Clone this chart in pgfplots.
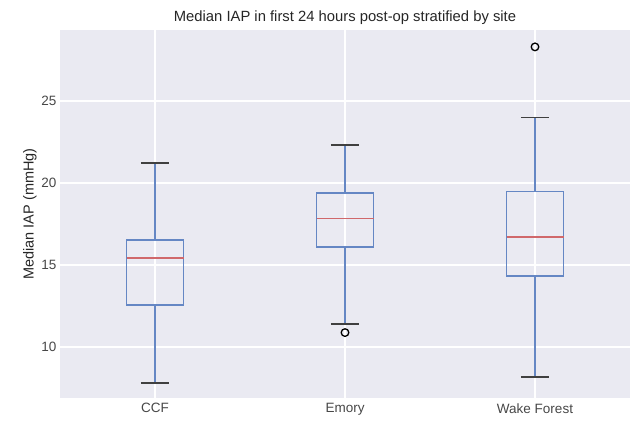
\documentclass[border=0pt]{standalone}
\usepackage{pgfplots}
\pgfplotsset{compat=1.18}
\usepgfplotslibrary{statistics}
\usepackage{fontspec}
\setmainfont{Liberation Sans}
\definecolor{bg}{HTML}{EAEAF2}
\definecolor{boxc}{HTML}{6587C4}
\definecolor{medc}{HTML}{D0686B}
\definecolor{capc}{HTML}{404040}
\definecolor{txt}{HTML}{262626}
\begin{document}
\begin{tikzpicture}
\begin{axis}[
  scale only axis,
  width=570pt, height=368pt,
  xmin=0.5, xmax=3.5,
  ymin=6.89, ymax=29.33,
  axis background/.style={fill=bg},
  axis line style={draw=none},
  major tick length=0pt,
  grid=major,
  grid style={white, line width=1.1pt},
  xtick={1,2,3},
  xticklabels={CCF,Emory,Wake Forest},
  ytick={10,15,20,25},
  tick label style={font=\fontsize{13.5}{15}\selectfont, text=txt!85},
  xticklabel style={yshift=-2pt},
  /pgf/number format/assume math mode=true,
  ylabel={Median IAP (mmHg)},
  ylabel style={font=\fontsize{14.5}{16}\selectfont, text=txt, yshift=-2pt},
  title={Median IAP in first 24 hours post-op stratified by site},
  title style={font=\fontsize{14.8}{16}\selectfont, text=txt, yshift=-4pt},
  boxplot/draw direction=y,
  boxplot/box extend=0.3,
  boxplot/whisker extend=0,
  bxp/.style={solid, draw=boxc, line width=1.3pt, no marks,
    boxplot/every median/.style={draw=medc, line width=1.3pt}},
  capstyle/.style={draw=capc, line width=1.2pt, no marks, forget plot},
  outl/.style={only marks, mark=o, mark size=3.8pt, draw=black, mark options={line width=1.3pt, draw=black}, forget plot},
]
\addplot[bxp,
  boxplot prepared={draw position=1, lower whisker=7.8, lower quartile=12.56, median=15.43, upper quartile=16.52, upper whisker=21.22}]
  coordinates {};
\addplot[bxp,
  boxplot prepared={draw position=2, lower whisker=11.4, lower quartile=16.1, median=17.85, upper quartile=19.39, upper whisker=22.32}]
  coordinates {};
\addplot[bxp,
  boxplot prepared={draw position=3, lower whisker=8.17, lower quartile=14.33, median=16.7, upper quartile=19.5, upper whisker=24.0}]
  coordinates {};
% caps
\addplot[capstyle] coordinates {(0.925,21.22) (1.075,21.22)};
\addplot[capstyle] coordinates {(0.925,7.8) (1.075,7.8)};
\addplot[capstyle] coordinates {(1.925,22.32) (2.075,22.32)};
\addplot[capstyle] coordinates {(1.925,11.4) (2.075,11.4)};
\addplot[capstyle] coordinates {(2.925,24.0) (3.075,24.0)};
\addplot[capstyle] coordinates {(2.925,8.17) (3.075,8.17)};
% outliers
\addplot[outl] coordinates {(2,10.88) (3,28.3)};
\end{axis}
\path ([shift={(-60pt,-23pt)}]current axis.south west) rectangle ([shift={(3pt,30pt)}]current axis.north east);
\end{tikzpicture}
\end{document}
